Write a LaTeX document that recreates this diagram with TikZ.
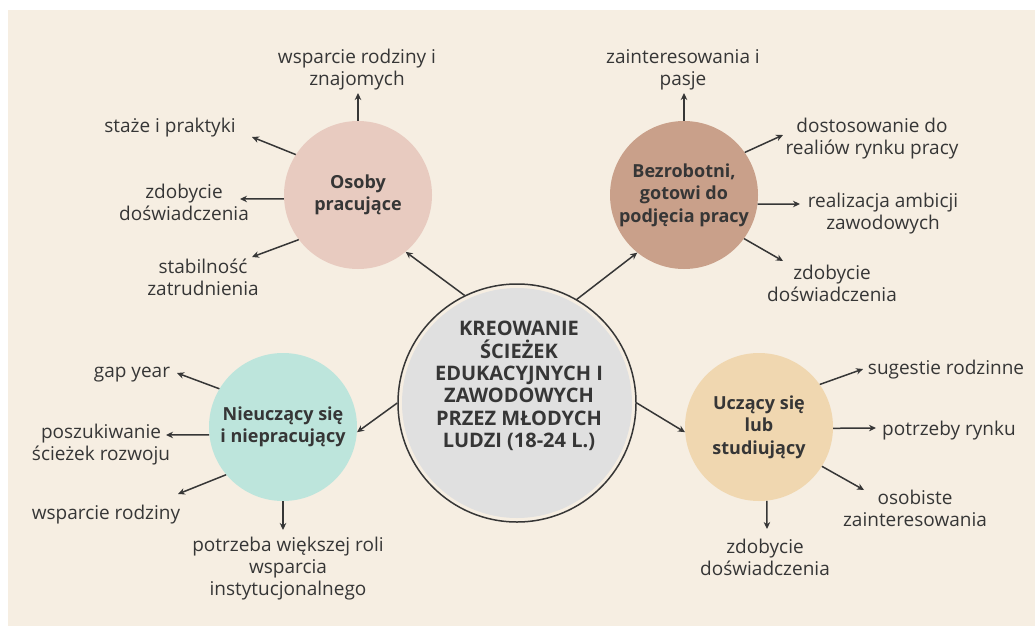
\documentclass[tikz,border=0pt]{standalone}
\usepackage{fontspec}
\setmainfont{Open Sans}
\usetikzlibrary{arrows.meta}
\definecolor{bg}{HTML}{F6EEE2}
\definecolor{ink}{HTML}{363636}
\definecolor{cpink}{HTML}{E8CBC0}
\definecolor{cbrown}{HTML}{C9A08A}
\definecolor{cmint}{HTML}{BDE5DC}
\definecolor{csand}{HTML}{F0D7B0}
\definecolor{cgray}{HTML}{E0E0E0}
\begin{document}
\begin{tikzpicture}[x=1pt,y=-1pt,
  lab/.style={text=ink, align=center, font=\fontsize{19}{22}\selectfont, inner sep=0},
  hub/.style={circle, minimum size=148pt, inner sep=0, text=ink, align=center, font=\bfseries\fontsize{18}{22.5}\selectfont},
  arr/.style={draw=ink, line width=1.5pt, -{Stealth[length=7pt,width=6.5pt]}},
]
\useasboundingbox (0,0) rectangle (1035,626);
\fill[white] (0,0) rectangle (1035,626);
\fill[bg] (8,10) rectangle (1035,626);

% centre
\fill[cgray] (517,403) circle[radius=115];
\node[circle, draw=ink, line width=1.5pt, minimum size=238pt, inner sep=0] (core) at (517,403) {};
\node[text=ink, align=center, inner sep=0, font=\bfseries\fontsize{20}{22.4}\selectfont] (coretext) at (519,386)
  {KREOWANIE\\ŚCIEŻEK\\EDUKACYJNYCH I\\ZAWODOWYCH\\PRZEZ MŁODYCH\\LUDZI (18-24 L.)};

% hubs
\node[hub, fill=cpink]  (osoby)  at (358,195) {Osoby\\pracujące};
\node[hub, fill=cbrown] (bezro)  at (684,195) {Bezrobotni,\\gotowi do\\podjęcia pracy};
\node[hub, fill=cmint]  (nieucz) at (283,427) {Nieuczący się\\i niepracujący};
\node[hub, fill=csand]  (uczacy) at (759,427) {Uczący się\\lub\\studiujący};

% labels
\node[lab] (l1) at (357,70)  {wsparcie rodziny i\\znajomych};
\node[lab] (l2) at (170,128) {staże i praktyki};
\node[lab] (l3) at (184,202) {zdobycie\\doświadczenia};
\node[lab] (l4) at (203,277) {stabilność\\zatrudnienia};
\node[lab] (r1) at (683,70)  {zainteresowania i\\pasje};
\node[lab] (r2) at (872,139) {dostosowanie do\\realiów rynku pracy};
\node[lab] (r3) at (883,214) {realizacja ambicji\\zawodowych};
\node[lab] (r4) at (832,283) {zdobycie\\doświadczenia};
\node[lab] (n1) at (132,375) {gap year};
\node[lab] (n2) at (101,445) {poszukiwanie\\ścieżek rozwoju};
\node[lab] (n3) at (106,515) {wsparcie rodziny};
\node[lab] (n4) at (288,569) {potrzeba większej roli\\wsparcia\\instytucjonalnego};
\node[lab] (u1) at (946,370) {sugestie rodzinne};
\node[lab] (u2) at (949,431) {potrzeby rynku};
\node[lab] (u3) at (915,508) {osobiste\\zainteresowania};
\node[lab] (u4) at (765,557) {zdobycie\\doświadczenia};

% arrow tips
\coordinate (tl1) at (358,93);
\coordinate (tl2) at (252,137);
\coordinate (tl3) at (240,199);
\coordinate (tl4) at (252,257);
\coordinate (tr1) at (684,93);
\coordinate (tr2) at (783,135);
\coordinate (tr3) at (800,204);
\coordinate (tr4) at (783,261);
\coordinate (tn1) at (177,373);
\coordinate (tn2) at (166,435);
\coordinate (tn3) at (178,494);
\coordinate (tn4) at (283,530);
\coordinate (tu1) at (863,369);
\coordinate (tu2) at (876,428);
\coordinate (tu3) at (864,490);
\coordinate (tu4) at (767,529);

% connectors centre -> hubs
\draw[arr] (core.116) -- (osoby.310);
\draw[arr] (core.60)  -- (bezro.231);
\draw[arr] (core.180) -- (nieucz.356);
\draw[arr] (core.0)   -- (uczacy.184);

% hub -> labels
\draw[arr] (osoby.90)  -- (tl1);
\draw[arr] (osoby.147) -- (tl2);
\draw[arr] (osoby.183) -- (tl3);
\draw[arr] (osoby.217) -- (tl4);
\draw[arr] (bezro.90)  -- (tr1);
\draw[arr] (bezro.35)  -- (tr2);
\draw[arr] (bezro.353) -- (tr3);
\draw[arr] (bezro.324) -- (tr4);
\draw[arr] (nieucz.149) -- (tn1);
\draw[arr] (nieucz.186) -- (tn2);
\draw[arr] (nieucz.220) -- (tn3);
\draw[arr] (nieucz.270) -- (tn4);
\draw[arr] (uczacy.35)  -- (tu1);
\draw[arr] (uczacy.359) -- (tu2);
\draw[arr] (uczacy.328) -- (tu3);
\draw[arr] (uczacy.276) -- (tu4);
\end{tikzpicture}
\end{document}
